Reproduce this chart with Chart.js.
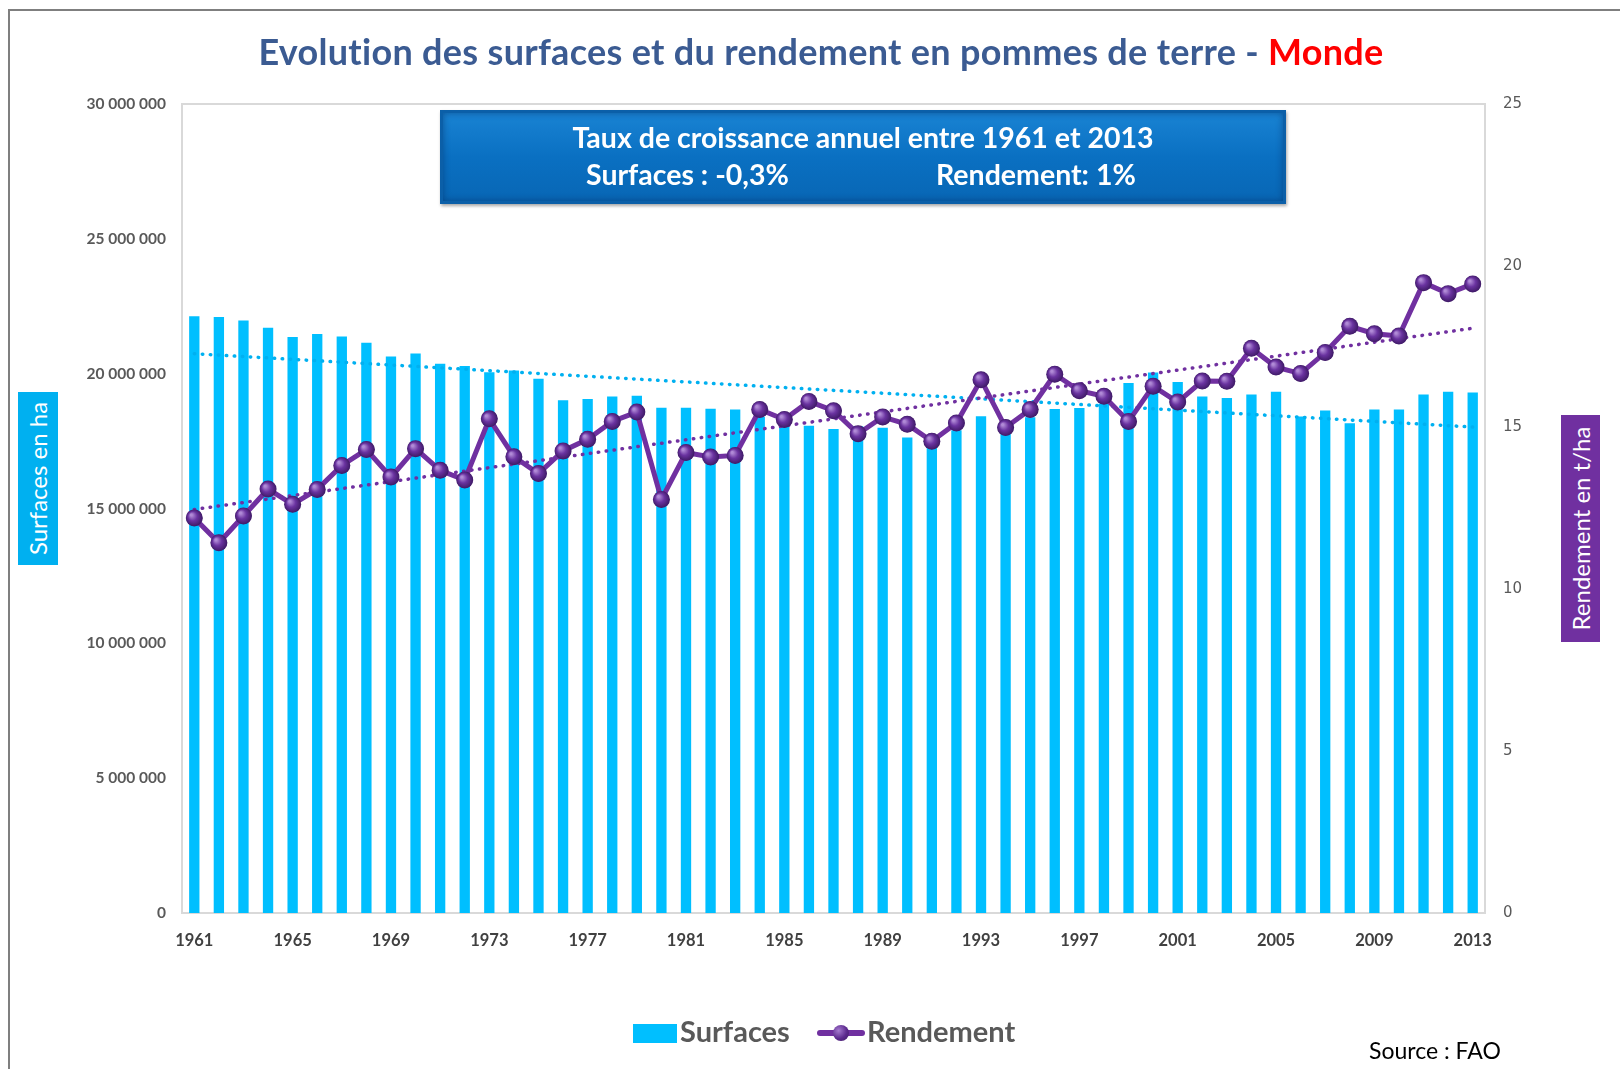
<!DOCTYPE html>
<html lang="fr">
<head>
    <meta charset="UTF-8">
    <title>Evolution des surfaces et du rendement en pommes de terre - Monde</title>
    <script src="https://cdn.jsdelivr.net/npm/chart.js"></script>
    <style>
        body {
            margin: 0;
            overflow: hidden;
            background-color: white;
            font-family: Lato, "Open Sans", sans-serif;
        }
        #wrap {
            position: relative;
            width: 1620px;
            height: 1069px;
        }
        #frame {
            position: absolute;
            left: 8px;
            top: 9px;
            width: 1700px;
            height: 1200px;
            border-top: 2px solid #7f7f7f;
            border-left: 2px solid #7f7f7f;
        }
        canvas { position: absolute; left: 0; top: 0; }
        .title {
            position: absolute;
            left: 821px;
            top: 29px;
            transform: translateX(-50%);
            white-space: nowrap;
            font-size: 36px;
            letter-spacing: 0.3px;
            font-weight: bold;
            color: #3b5b92;
        }
        .title span { color: #ff0000; }
        .infobox {
            position: absolute;
            left: 440px;
            top: 110px;
            width: 846px;
            height: 94px;
            background: linear-gradient(#1a84d4, #0a70c2 50%, #0866b4);
            box-shadow: inset 0 0 0 3px #0b5fa8, inset 0 0 7px 3px rgba(0, 30, 80, 0.45), 1px 2px 3px rgba(0, 0, 0, 0.35);
            color: white;
            font-weight: bold;
            font-size: 28.5px;
        }
        .infobox .l1 { position: absolute; left: 0; width: 100%; top: 10px; text-align: center; }
        .infobox .l2a { position: absolute; left: 146px; top: 47px; }
        .infobox .l2b { position: absolute; left: 496px; top: 47px; }
        .axtitle {
            position: absolute;
            color: white;
            font-size: 24px;
            display: flex;
            align-items: center;
            justify-content: center;
        }
        .axtitle div { transform: rotate(-90deg); white-space: nowrap; }
        .legend {
            position: absolute;
            top: 1013px;
            font-size: 29px;
            font-weight: bold;
            color: #595959;
        }
        .source {
            position: absolute;
            left: 1369px;
            top: 1036px;
            font-size: 23px;
            color: #000;
        }
    </style>
</head>
<body>
<div id="wrap">
    <div id="frame"></div>
    <canvas id="potatoChart" width="1620" height="1069"></canvas>
    <div class="title">Evolution des surfaces et du rendement en pommes de terre - <span>Monde</span></div>
    <div class="infobox">
        <div class="l1">Taux de croissance annuel entre 1961 et 2013</div>
        <div class="l2a">Surfaces : -0,3%</div>
        <div class="l2b">Rendement: 1%</div>
    </div>
    <div class="axtitle" style="left:18px; top:392px; width:40px; height:173px; background:#00b0f0;"><div>Surfaces en ha</div></div>
    <div class="axtitle" style="left:1561px; top:415px; width:39px; height:227px; background:#7030a0;"><div>Rendement en t/ha</div></div>
    <div class="legend" style="left:633px;">
        <div style="position:absolute; left:0; top:11px; width:44px; height:19px; background:#00bfff;"></div>
        <div style="position:absolute; left:47px; top:0; white-space:nowrap;">Surfaces</div>
        <div style="position:absolute; left:184px; top:17px; width:48px; height:6px; border-radius:3px; background:#7030a0;"></div>
        <div style="position:absolute; left:200px; top:12px; width:16px; height:16px; border-radius:50%; background:radial-gradient(circle at 35% 35%, #a67bd0, #5c2a8e 55%, #3d1a60);"></div>
        <div style="position:absolute; left:234px; top:0; white-space:nowrap;">Rendement</div>
    </div>
    <div class="source">Source : FAO</div>
</div>
<script>
    // years on the x axis
    const years = ['1961', '1962', '1963', '1964', '1965', '1966', '1967', '1968', '1969', '1970',
        '1971', '1972', '1973', '1974', '1975', '1976', '1977', '1978', '1979', '1980',
        '1981', '1982', '1983', '1984', '1985', '1986', '1987', '1988', '1989', '1990',
        '1991', '1992', '1993', '1994', '1995', '1996', '1997', '1998', '1999', '2000',
        '2001', '2002', '2003', '2004', '2005', '2006', '2007', '2008', '2009', '2010',
        '2011', '2012', '2013'];

    // surfaces (ha)
    const surfaces = [22130000, 22100000, 21970000, 21700000, 21360000, 21470000, 21380000, 21150000, 20640000, 20750000,
        20370000, 20280000, 20050000, 20120000, 19810000, 19010000, 19060000, 19150000, 19180000, 18740000,
        18740000, 18700000, 18670000, 18400000, 18250000, 18070000, 17950000, 18050000, 17990000, 17630000,
        17500000, 17900000, 18420000, 18100000, 18380000, 18690000, 18730000, 18890000, 19650000, 20040000,
        19690000, 19150000, 19100000, 19230000, 19330000, 18410000, 18630000, 18160000, 18670000, 18670000,
        19230000, 19330000, 19300000];

    // rendement (t/ha)
    const rendement = [12.21, 11.44, 12.27, 13.10, 12.63, 13.09, 13.83, 14.32, 13.47, 14.35,
        13.68, 13.38, 15.27, 14.10, 13.58, 14.28, 14.64, 15.19, 15.48, 12.78,
        14.23, 14.09, 14.14, 15.56, 15.25, 15.81, 15.52, 14.81, 15.33, 15.10,
        14.58, 15.14, 16.48, 15.00, 15.56, 16.65, 16.14, 15.97, 15.19, 16.28,
        15.79, 16.44, 16.43, 17.45, 16.87, 16.67, 17.32, 18.13, 17.90, 17.83,
        19.48, 19.14, 19.44];

    // dotted trend lines, value at 1961 and at 2013
    const trendSurfaces = [20740000, 18020000];
    const trendRendement = [12.47, 18.07];

    // left axis labels use a space as thousands separator
    function spaced(v) {
        return String(v).replace(/\B(?=(\d{3})+(?!\d))/g, ' ');
    }

    function endsOnly(pair) {
        const arr = years.map(() => null);
        arr[0] = pair[0];
        arr[arr.length - 1] = pair[1];
        return arr;
    }

    // light grey box round the plot area
    const plotFrame = {
        id: 'plotFrame',
        beforeDatasetsDraw(chart) {
            const a = chart.chartArea;
            const ctx = chart.ctx;
            ctx.save();
            ctx.strokeStyle = '#d9d9d9';
            ctx.lineWidth = 2;
            ctx.strokeRect(a.left, a.top, a.right - a.left, a.bottom - a.top);
            ctx.restore();
        }
    };

    // shaded balls on the yield line
    const ballPoints = {
        id: 'ballPoints',
        afterDatasetsDraw(chart) {
            const meta = chart.getDatasetMeta(0);
            const ctx = chart.ctx;
            ctx.save();
            meta.data.forEach(pt => {
                const g = ctx.createRadialGradient(pt.x - 3, pt.y - 3, 1, pt.x, pt.y, 9);
                g.addColorStop(0, '#b08ad6');
                g.addColorStop(0.45, '#6a33a0');
                g.addColorStop(1, '#3a1760');
                ctx.beginPath();
                ctx.arc(pt.x, pt.y, 8.5, 0, Math.PI * 2);
                ctx.fillStyle = g;
                ctx.fill();
            });
            ctx.restore();
        }
    };

    const ctx = document.getElementById('potatoChart').getContext('2d');
    const potatoChart = new Chart(ctx, {
        data: {
            labels: years,
            datasets: [
                {
                    type: 'line',
                    label: 'Rendement',
                    data: rendement,
                    yAxisID: 'y1',
                    borderColor: '#7030a0',
                    borderWidth: 5,
                    pointRadius: 8,
                    pointBackgroundColor: '#5c2a8e',
                    pointBorderWidth: 0,
                    tension: 0,
                    order: 0
                },
                {
                    type: 'line',
                    label: 'Tendance rendement',
                    data: endsOnly(trendRendement),
                    yAxisID: 'y1',
                    spanGaps: true,
                    borderColor: '#7030a0',
                    borderWidth: 3.5,
                    borderDash: [0.5, 7.5],
                    borderCapStyle: 'round',
                    pointRadius: 0,
                    order: 1
                },
                {
                    type: 'line',
                    label: 'Tendance surfaces',
                    data: endsOnly(trendSurfaces),
                    yAxisID: 'y',
                    spanGaps: true,
                    borderColor: '#00b0f0',
                    borderWidth: 3.5,
                    borderDash: [0.5, 7.5],
                    borderCapStyle: 'round',
                    pointRadius: 0,
                    order: 1
                },
                {
                    type: 'bar',
                    label: 'Surfaces',
                    data: surfaces,
                    yAxisID: 'y',
                    backgroundColor: '#00bfff',
                    barPercentage: 0.42,
                    categoryPercentage: 1,
                    order: 2
                }
            ]
        },
        options: {
            responsive: false,
            animation: false,
            layout: { padding: { top: 104, left: 0, right: 0, bottom: 0 } },
            plugins: {
                legend: { display: false },
                title: { display: false },
                tooltip: { enabled: false }
            },
            scales: {
                x: {
                    grid: { display: false, drawTicks: false },
                    border: { display: true, color: '#d9d9d9', width: 2 },
                    ticks: {
                        autoSkip: false,
                        maxRotation: 0,
                        padding: 18,
                        color: '#404040',
                        font: { family: 'Lato', size: 16.5, weight: 'bold' },
                        callback: function(value, index) {
                            return index % 4 === 0 ? years[index] : '';
                        }
                    },
                    afterFit: function(scale) { scale.height = 156; }
                },
                y: {
                    position: 'left',
                    min: 0,
                    max: 30000000,
                    grid: { display: false, drawTicks: false },
                    border: { display: true, color: '#d9d9d9', width: 2 },
                    ticks: {
                        stepSize: 5000000,
                        padding: 16,
                        color: '#595959',
                        font: { family: 'Lato', size: 15.5, weight: 'bold' },
                        callback: function(value) { return spaced(value); }
                    },
                    afterFit: function(scale) { scale.width = 182; }
                },
                y1: {
                    position: 'right',
                    min: 0,
                    max: 25,
                    grid: { display: false, drawTicks: false },
                    border: { display: true, color: '#d9d9d9', width: 2 },
                    ticks: {
                        stepSize: 5,
                        padding: 18,
                        color: '#595959',
                        font: { family: 'DejaVu Sans', size: 15 }
                    },
                    afterFit: function(scale) { scale.width = 135; }
                }
            }
        },
        plugins: [plotFrame, ballPoints]
    });
</script>
</body>
</html>
